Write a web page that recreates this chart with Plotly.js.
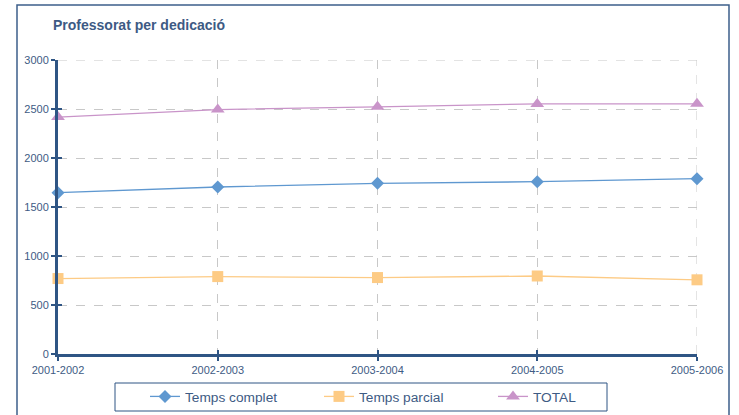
<!DOCTYPE html>
<html>
<head>
<meta charset="utf-8">
<script src="https://cdn.plot.ly/plotly-3.0.1.min.js"></script>
<style>html,body{margin:0;padding:0;background:#fff;}#chart{width:739px;height:415px;}</style>
</head>
<body>
<div id="chart"></div>
<script>
const categories = ["2001-2002", "2002-2003", "2003-2004", "2004-2005", "2005-2006"];
const tempsComplet = [1646, 1704, 1742, 1758, 1789];
const tempsParcial = [770, 790, 780, 796, 757];
const total = [2418, 2494, 2522, 2552, 2553];
const seriesNames = ["Temps complet", "Temps parcial", "TOTAL"];
const yTicks = [0, 500, 1000, 1500, 2000, 2500, 3000];

const axisColor = "#2f5584";
const textColor = "#3e5b84";
const gridColor = "#c8c8c8";

const traces = [
  {x: categories, y: tempsComplet, name: seriesNames[0], mode: "lines+markers",
   line: {color: "#5f98d0", width: 1.3}, marker: {symbol: "diamond", size: 10, color: "#5f98d0"}, cliponaxis: false},
  {x: categories, y: tempsParcial, name: seriesNames[1], mode: "lines+markers",
   line: {color: "#fdcb85", width: 1.3}, marker: {symbol: "square", size: 11, color: "#fdcb85"}, cliponaxis: false},
  {x: categories, y: total, name: seriesNames[2], mode: "lines+markers",
   line: {color: "#c994c9", width: 1.3}, marker: {symbol: "triangle-up", size: 12, color: "#c994c9"}, cliponaxis: false},
  {x: categories, y: total, xaxis: "x2", yaxis: "y2", mode: "markers", marker: {opacity: 0}, showlegend: false, hoverinfo: "skip"}
];

const layout = {
  width: 739, height: 415,
  margin: {l: 58, r: 42, t: 60, b: 61},
  paper_bgcolor: "#fff", plot_bgcolor: "rgba(0,0,0,0)",
  font: {family: "Liberation Sans, Arial, sans-serif", color: textColor, size: 11},
  title: {text: "<b>Professorat per dedicació</b>", x: 53/739, xanchor: "left", y: 1 - 25/415, yanchor: "middle",
          font: {size: 14, color: "#3d5a84", family: "Liberation Sans, Arial, sans-serif"}},
  xaxis: {type: "category", range: [0, 4], showline: true, linecolor: axisColor, linewidth: 3,
          ticks: "outside", ticklen: 4, tickwidth: 2, tickcolor: axisColor,
          showgrid: true, gridcolor: gridColor, griddash: "dash", gridwidth: 1,
          tickfont: {size: 11, color: textColor}, zeroline: false, fixedrange: true, automargin: false},
  yaxis: {range: [0, 3000], tickvals: yTicks, showline: true, linecolor: axisColor, linewidth: 3,
          ticks: "outside", ticklen: 4, tickwidth: 2, tickcolor: axisColor,
          showgrid: true, gridcolor: gridColor, griddash: "dash", gridwidth: 1,
          tickfont: {size: 11, color: textColor}, zeroline: false, fixedrange: true, automargin: false},
  xaxis2: {type: "category", range: [0, 4], overlaying: "x", anchor: "y2", side: "bottom", showline: false,
           ticks: "inside", ticklen: 4, tickwidth: 2, tickcolor: axisColor, showticklabels: false,
           showgrid: false, zeroline: false, fixedrange: true},
  yaxis2: {range: [0, 3000], tickvals: yTicks, overlaying: "y", anchor: "x2", side: "left", showline: false,
           ticks: "inside", ticklen: 4, tickwidth: 2, tickcolor: axisColor, showticklabels: false,
           showgrid: false, zeroline: false, fixedrange: true},
  showlegend: true,
  legend: {orientation: "h", xref: "container", yref: "container", x: 145/739, xanchor: "left", y: 1 - 381/415, yanchor: "top",
           borderwidth: 0, bgcolor: "rgba(0,0,0,0)", itemwidth: 30,
           font: {size: 13.7, color: textColor}, entrywidth: 129, entrywidthmode: "pixels"},
  shapes: [
    {type: "rect", xref: "paper", yref: "paper", x0: (17-58)/639, x1: (729-58)/639,
     y0: (354-430)/294, y1: (354-5)/294, line: {color: "#3d5f8a", width: 1.5}, layer: "below"},
    {type: "rect", xref: "paper", yref: "paper", x0: (115-58)/639, x1: (607-58)/639,
     y0: (354-411)/294, y1: (354-383)/294, line: {color: axisColor, width: 1}, fillcolor: "#fff", layer: "above"},
    {type: "line", xref: "paper", yref: "y", x0: 0, x1: 1, y0: yTicks[yTicks.length-1], y1: yTicks[yTicks.length-1],
     line: {color: gridColor, width: 1, dash: "dash"}, layer: "below"},
    {type: "line", xref: "x", yref: "paper", x0: categories[categories.length-1], x1: categories[categories.length-1], y0: 0, y1: 1,
     line: {color: gridColor, width: 1, dash: "dash"}, layer: "below"}
  ]
};

Plotly.newPlot("chart", traces, layout, {displayModeBar: false, staticPlot: true});
</script>
</body>
</html>
